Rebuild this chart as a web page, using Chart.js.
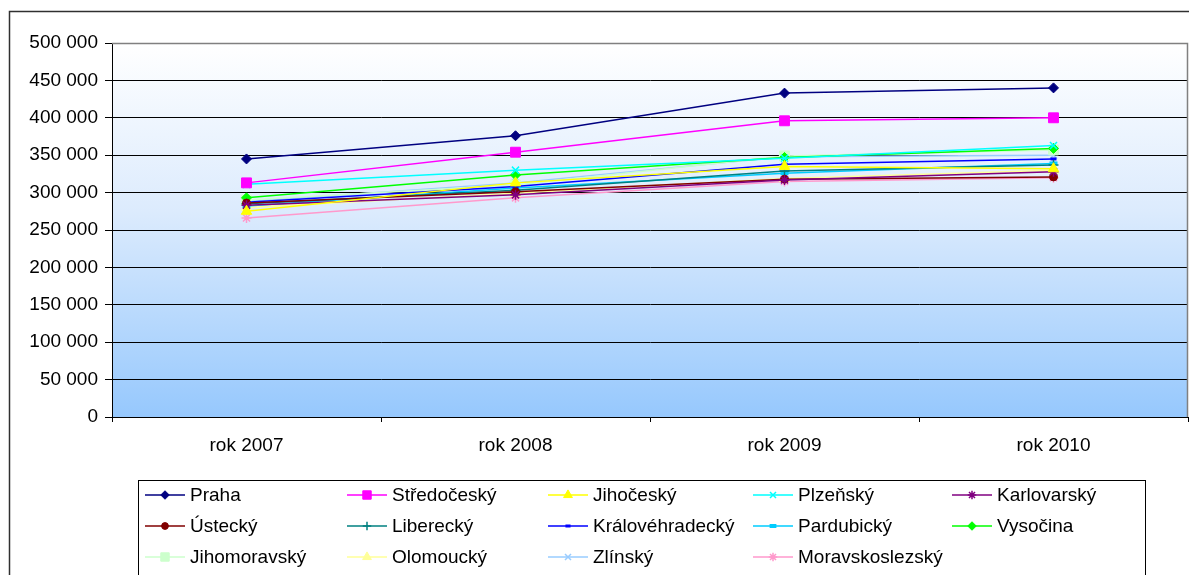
<!DOCTYPE html>
<html>
<head>
<meta charset="utf-8">
<script src="https://cdn.jsdelivr.net/npm/chart.js@4"></script>
<style>
  html, body { margin: 0; padding: 0; background: #ffffff; }
  #wrap { width: 1189px; height: 575px; position: relative; }
</style>
</head>
<body>
<div id="wrap"><canvas id="c" width="1189" height="575"></canvas></div>
<script>
// Categories (years)
const years = ['rok 2007', 'rok 2008', 'rok 2009', 'rok 2010'];

// Y axis ticks
const yTicks = [0, 50000, 100000, 150000, 200000, 250000, 300000, 350000, 400000, 450000, 500000];

// Values per region
const praha           = [345000, 376000, 433000, 440000];
const stredocesky     = [313000, 354000, 396000, 400000];
const jihocesky       = [275000, 313000, 335000, 332000];
const plzensky        = [311000, 330000, 346000, 363000];
const karlovarsky     = [283000, 297000, 317000, 328000];
const ustecky         = [286000, 301000, 318000, 321000];
const liberecky       = [285000, 303000, 329000, 337000];
const kralovehradecky = [287000, 308000, 338000, 345000];
const pardubicky      = [282000, 306000, 326000, 339000];
const vysocina        = [293000, 323500, 347000, 359000];
const jihomoravsky    = [290000, 310000, 349000, 357000];
const olomoucky       = [280000, 299000, 319000, 330000];
const zlinsky         = [288000, 313000, 348000, 350000];
const moravskoslezsky = [266000, 293000, 315000, 320000];

const series = [
  { label: 'Praha',           data: praha,           color: '#000080', style: 'rectRot',  r: 5 },
  { label: 'Středočeský',     data: stredocesky,     color: '#FF00FF', style: 'rect',     r: 7 },
  { label: 'Jihočeský',       data: jihocesky,       color: '#FFFF00', style: 'triangle', r: 6 },
  { label: 'Plzeňský',        data: plzensky,        color: '#00FFFF', style: 'crossRot', r: 5, bw: 1.5 },
  { label: 'Karlovarský',     data: karlovarsky,     color: '#800080', style: 'star',     r: 5, bw: 1.5 },
  { label: 'Ústecký',         data: ustecky,         color: '#800000', style: 'circle',   r: 4 },
  { label: 'Liberecký',       data: liberecky,       color: '#008080', style: 'cross',    r: 5, bw: 1.5 },
  { label: 'Královéhradecký', data: kralovehradecky, color: '#0000FF', style: 'line',     r: 3, bw: 3 },
  { label: 'Pardubický',      data: pardubicky,      color: '#00CCFF', style: 'line',     r: 4, bw: 4 },
  { label: 'Vysočina',        data: vysocina,        color: '#00FF00', style: 'rectRot',  r: 5 },
  { label: 'Jihomoravský',    data: jihomoravsky,    color: '#CCFFCC', style: 'rect',     r: 7 },
  { label: 'Olomoucký',       data: olomoucky,       color: '#FFFF99', style: 'triangle', r: 6 },
  { label: 'Zlínský',         data: zlinsky,         color: '#99CCFF', style: 'crossRot', r: 5, bw: 1.5 },
  { label: 'Moravskoslezský', data: moravskoslezsky, color: '#FF99CC', style: 'star',     r: 5, bw: 1.5 }
];

const FONT = 'Liberation Sans, Arial, sans-serif';
const FONT_SIZE = 19;

function spaced(v) {
  return String(v).replace(/\B(?=(\d{3})+(?!\d))/g, ' ');
}

// Gradient plot background, outer frame and plot border
const frame = {
  id: 'frame',
  beforeDraw(chart) {
    const { ctx, chartArea: a } = chart;
    ctx.save();
    const g = ctx.createLinearGradient(0, a.top, 0, a.bottom);
    g.addColorStop(0, '#FFFFFF');
    g.addColorStop(0.45, '#DCEBFD');
    g.addColorStop(1, '#96C8FD');
    ctx.fillStyle = g;
    ctx.fillRect(a.left, a.top, a.right - a.left, a.bottom - a.top);
    // outer frame
    ctx.strokeStyle = '#303030';
    ctx.lineWidth = 1.5;
    ctx.strokeRect(9.5, 11.5, 1250, 700);
    ctx.restore();
  },
  afterDatasetsDraw(chart) {
    const { ctx, chartArea: a } = chart;
    ctx.save();
    ctx.strokeStyle = '#808080';
    ctx.lineWidth = 1.5;
    ctx.beginPath();
    ctx.moveTo(a.left, a.top + 0.5);
    ctx.lineTo(a.right - 0.5, a.top + 0.5);
    ctx.lineTo(a.right - 0.5, a.bottom);
    ctx.stroke();
    ctx.restore();
  }
};

// Grid legend in a framed box below the plot
const gridLegend = {
  id: 'gridLegend',
  afterDraw(chart) {
    const { ctx } = chart;
    const lineX = [145, 347, 548, 753, 952];
    const rowY = [495, 526, 557];
    ctx.save();
    ctx.strokeStyle = '#000000';
    ctx.lineWidth = 1;
    ctx.strokeRect(138.5, 480.5, 1007, 120);
    ctx.font = FONT_SIZE + 'px ' + FONT;
    ctx.textBaseline = 'middle';
    ctx.textAlign = 'left';
    chart.data.datasets.forEach((ds, i) => {
      const x = lineX[i % 5];
      const y = rowY[Math.floor(i / 5)];
      ctx.strokeStyle = ds.borderColor;
      ctx.lineWidth = 1.5;
      ctx.beginPath();
      ctx.moveTo(x, y);
      ctx.lineTo(x + 40, y);
      ctx.stroke();
      ctx.fillStyle = ds.pointBackgroundColor;
      ctx.strokeStyle = ds.pointBorderColor;
      ctx.lineWidth = ds.pointBorderWidth;
      Chart.helpers.drawPoint(ctx, {
        pointStyle: ds.pointStyle,
        radius: ds.pointRadius * 0.85,
        rotation: 0,
        borderWidth: ds.pointBorderWidth
      }, x + 20, y);
      ctx.fillStyle = '#000000';
      ctx.fillText(ds.label, x + 45, y + 1);
    });
    ctx.restore();
  }
};

new Chart(document.getElementById('c'), {
  type: 'line',
  data: {
    labels: years,
    datasets: series.map(s => ({
      label: s.label,
      data: s.data,
      borderColor: s.color,
      backgroundColor: s.color,
      pointBackgroundColor: s.color,
      pointBorderColor: s.color,
      pointStyle: s.style,
      pointRadius: s.r,
      pointHoverRadius: s.r,
      pointBorderWidth: s.bw || 1,
      borderWidth: 1.5,
      tension: 0,
      fill: false
    }))
  },
  options: {
    responsive: false,
    animation: false,
    events: [],
    layout: { autoPadding: false, padding: { left: 0, top: 43, right: 1, bottom: 0 } },
    plugins: {
      legend: { display: false },
      tooltip: { enabled: false },
      title: { display: false }
    },
    scales: {
      x: {
        offset: true,
        grid: {
          offset: true,
          drawOnChartArea: false,
          drawTicks: true,
          tickLength: 5,
          color: '#000000'
        },
        border: { color: '#000000', width: 1 },
        ticks: {
          color: '#000000',
          font: { family: FONT, size: FONT_SIZE },
          padding: 12,
          maxRotation: 0
        },
        afterFit(scale) {
          scale.height = 158;
          scale.paddingLeft = 0;
          scale.paddingRight = 0;
        }
      },
      y: {
        min: 0,
        max: 500000,
        afterBuildTicks(scale) { scale.ticks = yTicks.map(v => ({ value: v })); },
        grid: {
          color: '#000000',
          lineWidth: 1,
          drawTicks: true,
          tickLength: 7
        },
        border: { color: '#000000', width: 1 },
        ticks: {
          color: '#000000',
          font: { family: FONT, size: FONT_SIZE },
          padding: 7,
          callback: v => spaced(v)
        },
        afterFit(scale) {
          scale.width = 112;
          scale.paddingTop = 0;
          scale.paddingBottom = 0;
        }
      }
    }
  },
  plugins: [frame, gridLegend]
});
</script>
</body>
</html>
